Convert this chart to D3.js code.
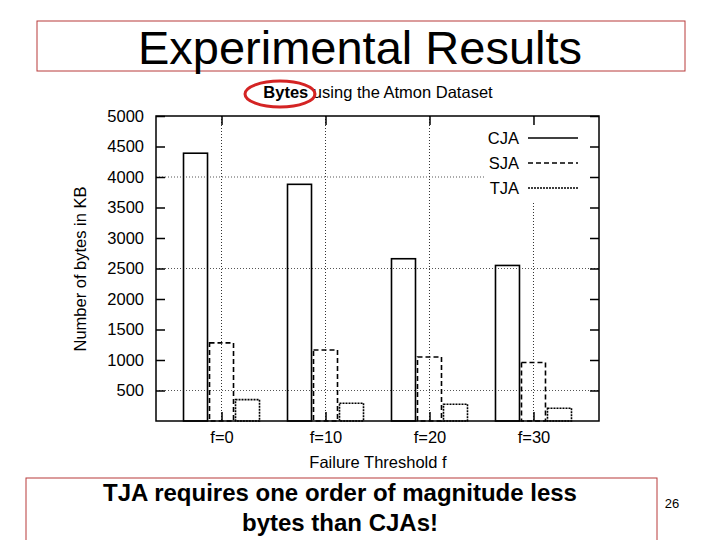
<!DOCTYPE html>
<html>
<head>
<meta charset="utf-8">
<script src="https://cdn.jsdelivr.net/npm/d3@7"></script>
<style>
  body { margin: 0; background: #fff; }
  svg text { font-family: "Liberation Sans", Arial, sans-serif; }
</style>
</head>
<body>
<div id="slide"></div>
<script>
// chart values
const categories = ["f=0", "f=10", "f=20", "f=30"]
const seriesNames = ["CJA", "SJA", "TJA"]
const cjaValues = [4390, 3880, 2660, 2550]
const sjaValues = [1280, 1165, 1050, 960]
const tjaValues = [350, 290, 275, 210]
const yTicks = [500, 1000, 1500, 2000, 2500, 3000, 3500, 4000, 4500, 5000]
const gridValues = [500, 2500, 4000]

const width = 720
const height = 540
const margin = ({ top: 116, right: 121, bottom: 119, left: 156 })

const svg = d3.select('#slide')
    .append('svg')
    .attr('width', width)
    .attr('height', height)

// slide title
svg.append('rect')
    .attr('x', 37).attr('y', 21)
    .attr('width', 648).attr('height', 50)
    .attr('fill', 'none')
    .attr('stroke', '#b83a3a')
    .attr('stroke-width', 1)
svg.append('text')
    .attr('x', 360).attr('y', 64)
    .attr('text-anchor', 'middle')
    .attr('font-size', 47)
    .text('Experimental Results')

const y = d3.scaleLinear()
    .domain([0, 5000])
    .range([height - margin.bottom, margin.top])
const x = d3.scalePoint()
    .domain(categories)
    .range([margin.left, width - margin.right])
    .padding(0.63)

const barW = 24
const barGap = 2
const dashes = ["none", "5,3", "2,1"]
const bars = []
categories.forEach((c, i) => {
    bars.push({ cat: c, s: 0, v: cjaValues[i] })
    bars.push({ cat: c, s: 1, v: sjaValues[i] })
    bars.push({ cat: c, s: 2, v: tjaValues[i] })
})

const plot = svg.append('g')

// grid
plot.append('g')
    .selectAll('line')
    .data(gridValues)
    .join('line')
    .attr('x1', margin.left).attr('x2', width - margin.right)
    .attr('y1', d => y(d)).attr('y2', d => y(d))
    .attr('stroke', '#555')
    .attr('stroke-dasharray', '1,2')
plot.append('g')
    .selectAll('line')
    .data(categories)
    .join('line')
    .attr('x1', d => x(d)).attr('x2', d => x(d))
    .attr('y1', margin.top).attr('y2', height - margin.bottom)
    .attr('stroke', '#333')
    .attr('stroke-dasharray', '1,2')

// legend background hides the grid
plot.append('rect')
    .attr('x', 486).attr('y', margin.top + 1)
    .attr('width', width - margin.right - 487).attr('height', 85)
    .attr('fill', '#fff')

// bars
plot.append('g')
    .selectAll('rect')
    .data(bars)
    .join('rect')
    .attr('x', d => x(d.cat) + (d.s - 1) * (barW + barGap) - barW / 2)
    .attr('y', d => y(d.v))
    .attr('width', barW)
    .attr('height', d => y(0) - y(d.v))
    .attr('fill', 'none')
    .attr('stroke', '#000')
    .attr('stroke-width', 1.6)
    .attr('stroke-dasharray', d => dashes[d.s])

// frame
plot.append('rect')
    .attr('x', margin.left).attr('y', margin.top)
    .attr('width', width - margin.left - margin.right)
    .attr('height', height - margin.top - margin.bottom)
    .attr('fill', 'none')
    .attr('stroke', '#000')
    .attr('stroke-width', 1.5)

// y axis, ticks inward on both sides
const yAxis = g => g
    .attr('transform', `translate(${margin.left},0)`)
    .call(d3.axisLeft(y).tickValues(yTicks).tickSize(-9).tickPadding(12).tickFormat(d3.format('d')))
    .call(g => g.select('.domain').remove())
    .call(g => g.selectAll('line').attr('stroke-width', 1.5))
    .call(g => g.selectAll('text').attr('font-size', 16.5).attr('fill', '#000')
        .attr('font-family', '"Liberation Sans", Arial, sans-serif'))
svg.append('g').call(yAxis)
svg.append('g')
    .attr('transform', `translate(${width - margin.right},0)`)
    .call(d3.axisRight(y).tickValues(yTicks).tickSize(-9).tickFormat(''))
    .call(g => g.select('.domain').remove())
    .call(g => g.selectAll('line').attr('stroke-width', 1.5))

// x axis
const xAxis = g => g
    .attr('transform', `translate(0,${height - margin.bottom})`)
    .call(d3.axisBottom(x).tickSize(-9).tickPadding(10))
    .call(g => g.select('.domain').remove())
    .call(g => g.selectAll('line').attr('stroke-width', 1.5))
    .call(g => g.selectAll('text').attr('font-size', 16.5).attr('fill', '#000')
        .attr('font-family', '"Liberation Sans", Arial, sans-serif'))
svg.append('g').call(xAxis)
svg.append('g')
    .attr('transform', `translate(0,${margin.top})`)
    .call(d3.axisTop(x).tickSize(-9).tickFormat(''))
    .call(g => g.select('.domain').remove())
    .call(g => g.selectAll('line').attr('stroke-width', 1.5))

// legend
const legend = svg.append('g')
    .selectAll('g')
    .data(seriesNames)
    .join('g')
    .attr('transform', (d, i) => `translate(0,${138 + i * 25})`)
legend.append('text')
    .attr('x', 519)
    .attr('dy', '0.35em')
    .attr('text-anchor', 'end')
    .attr('font-size', 16.5)
    .text(d => d)
legend.append('line')
    .attr('x1', 528).attr('x2', 578)
    .attr('stroke', '#000')
    .attr('stroke-width', 1.5)
    .attr('stroke-dasharray', (d, i) => dashes[i])

// axis titles
const chartTitle = svg.append('text')
    .attr('x', 378).attr('y', 98)
    .attr('text-anchor', 'middle')
    .attr('font-size', 16.5)
chartTitle.append('tspan').attr('font-weight', 'bold').text('Bytes')
chartTitle.append('tspan').text(' using the Atmon Dataset')

svg.append('ellipse')
    .attr('cx', 280).attr('cy', 94)
    .attr('rx', 35).attr('ry', 13)
    .attr('fill', 'none')
    .attr('stroke', '#d42424')
    .attr('stroke-width', 3)

svg.append('text')
    .attr('x', 378).attr('y', 468)
    .attr('text-anchor', 'middle')
    .attr('font-size', 16.5)
    .text('Failure Threshold f')

svg.append('text')
    .attr('transform', 'translate(80,269) rotate(-90)')
    .attr('text-anchor', 'middle')
    .attr('dy', '0.35em')
    .attr('font-size', 16.5)
    .text('Number of bytes in KB')

// bottom note
svg.append('rect')
    .attr('x', 26).attr('y', 478)
    .attr('width', 631).attr('height', 80)
    .attr('fill', 'none')
    .attr('stroke', '#b83a3a')
    .attr('stroke-width', 1)
svg.append('text')
    .attr('x', 340).attr('y', 501)
    .attr('text-anchor', 'middle')
    .attr('font-size', 24)
    .attr('font-weight', 'bold')
    .text('TJA requires one order of magnitude less')
svg.append('text')
    .attr('x', 340).attr('y', 531)
    .attr('text-anchor', 'middle')
    .attr('font-size', 24)
    .attr('font-weight', 'bold')
    .text('bytes than CJAs!')
svg.append('text')
    .attr('x', 672).attr('y', 508)
    .attr('text-anchor', 'middle')
    .attr('font-size', 13)
    .text('26')
</script>
</body>
</html>
